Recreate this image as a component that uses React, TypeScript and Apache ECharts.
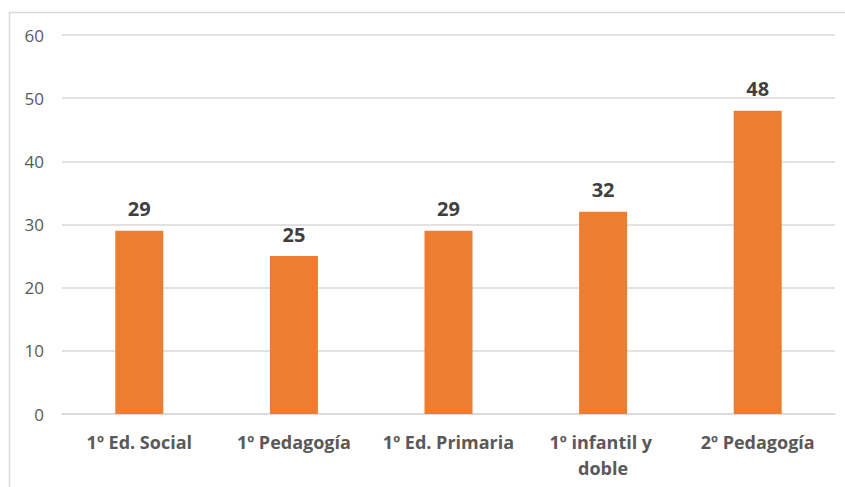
import React, { useEffect, useRef } from "react";
import * as echarts from "echarts";

const categories = ["1º Ed. Social", "1º Pedagogía", "1º Ed. Primaria", "1º infantil y doble", "2º Pedagogía"];
const values = [29, 25, 29, 32, 48];
const yTicks = { min: 0, max: 60, interval: 10 };

export default function App() {
  const ref = useRef<HTMLDivElement>(null);
  useEffect(() => {
    const chart = echarts.init(ref.current!, null, { renderer: "svg" });
    chart.setOption({
      animation: false,
      backgroundColor: "#ffffff",
      graphic: [
        {
          type: "rect",
          shape: { x: 9.5, y: 12.5, width: 900, height: 600 },
          style: { fill: "none", stroke: "#D9D9D9", lineWidth: 1.5 },
          silent: true,
        },
      ],
      grid: { left: 62, right: 10, top: 35, bottom: 73, containLabel: false },
      xAxis: {
        type: "category",
        data: categories,
        axisLine: { show: true, lineStyle: { color: "#D9D9D9", width: 1.5 } },
        axisTick: { show: false },
        axisLabel: {
          interval: 0,
          color: "#595959",
          fontFamily: "Open Sans",
          fontWeight: "bold",
          fontSize: 18,
          margin: 15,
          lineHeight: 26,
          width: 145,
          overflow: "break",
        },
      },
      yAxis: {
        type: "value",
        min: yTicks.min,
        max: yTicks.max,
        interval: yTicks.interval,
        axisLine: { show: false },
        axisTick: { show: false },
        splitLine: { lineStyle: { color: "#D9D9D9", width: 1.5 } },
        axisLabel: {
          color: "#595959",
          fontFamily: "Open Sans",
          fontSize: 17,
          margin: 18,
        },
      },
      series: [
        {
          type: "bar",
          data: values,
          barWidth: 48,
          itemStyle: { color: "#ED7D31" },
          label: {
            show: true,
            position: "top",
            distance: 12,
            color: "#404040",
            fontFamily: "Open Sans",
            fontWeight: "bold",
            fontSize: 20,
          },
        },
      ],
    });
    return () => chart.dispose();
  }, []);
  return (
    <div
      ref={ref}
      style={{ position: "absolute", left: 0, top: 0, width: 845, height: 487 }}
    />
  );
}
